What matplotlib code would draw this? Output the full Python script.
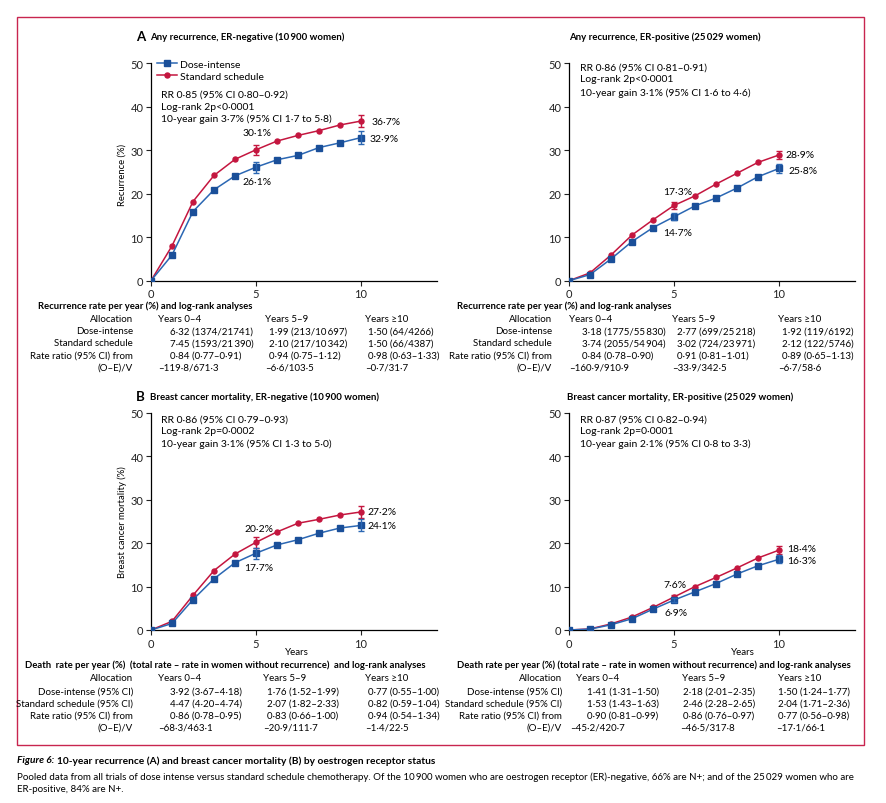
import matplotlib
matplotlib.use('Agg')
import matplotlib.pyplot as plt
from matplotlib.patches import Rectangle

plt.rcParams['font.family'] = ['Lato', 'DejaVu Sans']

W, H = 887, 804
RED = '#c4163f'
BLUE = '#1f5ba6'
BORDER = '#c8254f'

years = list(range(0, 11))
err_years = [5, 10]

# Panel A, ER-negative: any recurrence (%)
a_neg_dose = [0, 5.9, 15.9, 20.9, 24.1, 26.1, 27.8, 28.8, 30.6, 31.7, 32.9]
a_neg_std = [0, 8.0, 18.2, 24.2, 27.9, 30.1, 32.1, 33.4, 34.5, 35.8, 36.7]
a_neg_dose_err = [1.3, 1.5]
a_neg_std_err = [1.2, 1.4]

# Panel A, ER-positive
a_pos_dose = [0, 1.4, 5.0, 9.0, 12.2, 14.7, 17.2, 19.0, 21.3, 23.9, 25.8]
a_pos_std = [0, 1.8, 5.9, 10.5, 14.0, 17.3, 19.5, 22.2, 24.7, 27.2, 28.9]
a_pos_dose_err = [0.8, 1.0]
a_pos_std_err = [0.8, 1.0]

# Panel B, ER-negative: breast cancer mortality (%)
b_neg_dose = [0, 1.5, 7.0, 11.8, 15.5, 17.7, 19.6, 20.8, 22.3, 23.5, 24.1]
b_neg_std = [0, 2.0, 8.0, 13.7, 17.5, 20.2, 22.6, 24.6, 25.5, 26.5, 27.2]
b_neg_dose_err = [1.3, 1.4]
b_neg_std_err = [1.2, 1.4]

# Panel B, ER-positive
b_pos_dose = [0, 0.2, 1.2, 2.6, 4.8, 6.9, 8.8, 10.7, 12.9, 14.8, 16.3]
b_pos_std = [0, 0.25, 1.4, 3.0, 5.2, 7.6, 10.0, 12.1, 14.3, 16.6, 18.4]
b_pos_dose_err = [0.5, 0.9]
b_pos_std_err = [0.5, 0.9]

yticks = [0, 10, 20, 30, 40, 50]
xticks = [0, 5, 10]
series_names = ['Dose-intense', 'Standard schedule']

titles = ['Any recurrence, ER-negative (10\u2009900 women)',
          'Any recurrence, ER-positive (25\u2009029 women)',
          'Breast cancer mortality, ER-negative (10\u2009900 women)',
          'Breast cancer mortality, ER-positive (25\u2009029 women)']

stats = [['RR 0·85 (95% CI 0·80–0·92)', 'Log-rank 2p<0·0001', '10-year gain 3·7% (95% CI 1·7 to 5·8)'],
         ['RR 0·86 (95% CI 0·81–0·91)', 'Log-rank 2p<0·0001', '10-year gain 3·1% (95% CI 1·6 to 4·6)'],
         ['RR 0·86 (95% CI 0·79–0·93)', 'Log-rank 2p=0·0002', '10-year gain 3·1% (95% CI 1·3 to 5·0)'],
         ['RR 0·87 (95% CI 0·82–0·94)', 'Log-rank 2p=0·0001', '10-year gain 2·1% (95% CI 0·8 to 3·3)']]

# Tables
col_heads = ['Years 0–4', 'Years 5–9', 'Years ≥10']
a_rows = ['Allocation', 'Dose-intense', 'Standard schedule', 'Rate ratio (95% CI) from', '(O–E)/V']
b_rows = ['Allocation', 'Dose-intense (95% CI)', 'Standard schedule (95% CI)', 'Rate ratio (95% CI) from', '(O–E)/V']
a_head = 'Recurrence rate per year (%) and log-rank analyses'
b_head_left = 'Death  rate per year (%)  (total rate – rate in women without recurrence)  and log-rank analyses'
b_head_right = 'Death rate per year (%) (total rate – rate in women without recurrence) and log-rank analyses'

a_neg_tbl_dose = ['6·32 (1374/21741)', '1·99 (213/10\u2009697)', '1·50 (64/4266)']
a_neg_tbl_std = ['7·45 (1593/21\u2009390)', '2·10 (217/10\u2009342)', '1·50 (66/4387)']
a_neg_tbl_rr = ['0·84 (0·77–0·91)', '0·94 (0·75–1·12)', '0·98 (0·63–1·33)']
a_neg_tbl_oe = ['–119·8/671·3', '–6·6/103·5', '–0·7/31·7']

a_pos_tbl_dose = ['3·18 (1775/55\u2009830)', '2·77 (699/25\u2009218)', '1·92 (119/6192)']
a_pos_tbl_std = ['3·74 (2055/54\u2009904)', '3·02 (724/23\u2009971)', '2·12 (122/5746)']
a_pos_tbl_rr = ['0·84 (0·78–0·90)', '0·91 (0·81–1·01)', '0·89 (0·65–1·13)']
a_pos_tbl_oe = ['–160·9/910·9', '–33·9/342·5', '–6·7/58·6']

b_neg_tbl_dose = ['3·92 (3·67–4·18)', '1·76 (1·52–1·99)', '0·77 (0·55–1·00)']
b_neg_tbl_std = ['4·47 (4·20–4·74)', '2·07 (1·82–2·33)', '0·82 (0·59–1·04)']
b_neg_tbl_rr = ['0·86 (0·78–0·95)', '0·83 (0·66–1·00)', '0·94 (0·54–1·34)']
b_neg_tbl_oe = ['–68·3/463·1', '–20·9/111·7', '–1·4/22·5']

b_pos_tbl_dose = ['1·41 (1·31–1·50)', '2·18 (2·01–2·35)', '1·50 (1·24–1·77)']
b_pos_tbl_std = ['1·53 (1·43–1·63)', '2·46 (2·28–2·65)', '2·04 (1·71–2·36)']
b_pos_tbl_rr = ['0·90 (0·81–0·99)', '0·86 (0·76–0·97)', '0·77 (0·56–0·98)']
b_pos_tbl_oe = ['–45·2/420·7', '–46·5/317·8', '–17·1/66·1']

fig = plt.figure(figsize=(W / 100, H / 100), dpi=100)
renderer = fig.canvas.get_renderer()

TFS = 7.0   # table text size
HFS = 6.8   # bold table heading size


def fx(x):
    return x / W


def fy(y):
    return 1 - y / H


def T(x, y, s, **kw):
    kw.setdefault('fontsize', TFS)
    kw.setdefault('va', 'center')
    return fig.text(fx(x), fy(y), s, **kw)


# border
fig.add_artist(Rectangle((fx(17), fy(746)), fx(864) - fx(17), fy(18) - fy(746),
                         transform=fig.transFigure, fill=False, edgecolor=BORDER, lw=1.0))

XMAX = 13.6
PXY = 21.0


def fmt(v):
    return f'{v:.1f}%'.replace('.', '·')


def panel(x0, y0, ytop, dose, std, dose_err, std_err, labpos, legend=False):
    hpx = y0 - ytop
    ax = fig.add_axes([fx(x0), fy(y0), XMAX * PXY / W, hpx / H])
    ax.plot(years, std, color=RED, lw=1.1, marker='o', ms=3.6, zorder=3, label=series_names[1])
    ax.plot(years, dose, color='#2b67b3', lw=1.1, marker='s', ms=4.2, mfc='#1a4f99', mec='#1a4f99',
            zorder=4, label=series_names[0])
    ax.errorbar(err_years, [std[i] for i in err_years], yerr=std_err, fmt='none', ecolor=RED,
                elinewidth=1.0, capsize=2, capthick=1.0, zorder=3)
    ax.errorbar(err_years, [dose[i] for i in err_years], yerr=dose_err, fmt='none', ecolor='#2b67b3',
                elinewidth=1.0, capsize=2, capthick=1.0, zorder=4)
    ax.set_xlim(0, XMAX)
    ax.set_ylim(0, 50)
    ax.set_xticks(xticks)
    ax.set_yticks(yticks)
    for s in ['top', 'right']:
        ax.spines[s].set_visible(False)
    for s in ['left', 'bottom']:
        ax.spines[s].set_linewidth(0.9)
    ax.tick_params(axis='both', labelsize=8, length=3.5, width=0.8, pad=2, colors='#222222',
                   labelcolor='#222222')
    ax.patch.set_alpha(0)
    # value labels
    (sx5, sy5), (dx5, dy5), (sx10, sy10), (dx10, dy10) = labpos
    ax.text(sx5, sy5, fmt(std[5]), fontsize=7.5, va='center', ha='left')
    ax.text(dx5, dy5, fmt(dose[5]), fontsize=7.5, va='center', ha='left')
    ax.text(sx10, sy10, fmt(std[10]), fontsize=7.5, va='center', ha='left')
    ax.text(dx10, dy10, fmt(dose[10]), fontsize=7.5, va='center', ha='left')
    if legend:
        h, l = ax.get_legend_handles_labels()
        ax.legend(h[::-1], l[::-1], loc='upper left', bbox_to_anchor=(0.012, 1.025), frameon=False,
                  fontsize=7.5, handlelength=2.0, handletextpad=0.3, labelspacing=0.25,
                  borderaxespad=0, borderpad=0.2)
    return ax


panel(151, 281.7, 64.2, a_neg_dose, a_neg_std, a_neg_dose_err, a_neg_std_err,
      [(4.38, 34.0), (4.38, 22.9), (10.48, 36.7), (10.43, 32.8)], legend=True)
panel(569, 281.7, 64.2, a_pos_dose, a_pos_std, a_pos_dose_err, a_pos_std_err,
      [(4.48, 20.4), (4.48, 11.0), (10.29, 29.1), (10.43, 25.4)])
panel(151, 631, 414, b_neg_dose, b_neg_std, b_neg_dose_err, b_neg_std_err,
      [(4.43, 23.3), (4.43, 14.3), (10.29, 27.2), (10.29, 24.0)])
panel(569, 631, 414, b_pos_dose, b_pos_std, b_pos_dose_err, b_pos_std_err,
      [(4.52, 10.4), (4.57, 4.1), (10.38, 18.7), (10.38, 16.1)])

# titles
T(136, 37, 'A', fontsize=9.5, fontweight='bold', ha='left')
T(150, 37, titles[0], fontsize=6.9, fontweight='bold', ha='left')
T(569, 37, titles[1], fontsize=6.9, fontweight='bold', ha='left')
T(136, 397, 'B', fontsize=9.5, fontweight='bold', ha='left')
T(150, 397, titles[2], fontsize=6.9, fontweight='bold', ha='left')
T(567, 397, titles[3], fontsize=6.9, fontweight='bold', ha='left')

# stats blocks
for (x, ys), lines in zip([(161, [95, 107, 119]), (580, [68, 80, 93]), (161, [420, 432, 444]),
                           (580, [420, 432, 444])], stats):
    for y, s in zip(ys, lines):
        T(x, y, s, ha='left', fontsize=7.5)

# y labels
T(122, 175, 'Recurrence (%)', rotation=90, ha='center', fontsize=6.8)
T(122, 522, 'Breast cancer mortality (%)', rotation=90, ha='center', fontsize=6.8)

# Years labels
T(297, 653, 'Years', ha='center')
T(743, 653, 'Years', ha='center')


def table(hx, hy, head, rows, ry, lab_r, head_xs, val_xs, oe_xs, body):
    T(hx, hy, head, ha='left', fontweight='bold', fontsize=HFS)
    for y, r in zip(ry, rows):
        T(lab_r, y, r, ha='right')
    for x, c in zip(head_xs, col_heads):
        T(x, ry[0], c, ha='left')
    for i, vals in enumerate(body):
        xs = oe_xs if i == len(body) - 1 else val_xs
        for x, v in zip(xs, vals):
            T(x, ry[i + 1], v, ha='left')


table(38, 306, a_head, a_rows, [320, 332, 344, 356, 368], 133,
      [158, 265, 365], [170, 269, 368], [158, 265, 365],
      [a_neg_tbl_dose, a_neg_tbl_std, a_neg_tbl_rr, a_neg_tbl_oe])
table(457, 306, a_head, a_rows, [320, 332, 344, 356, 368], 552,
      [569, 672, 778], [582, 677, 782], [569, 672, 778],
      [a_pos_tbl_dose, a_pos_tbl_std, a_pos_tbl_rr, a_pos_tbl_oe])
table(25, 665, b_head_left, b_rows, [679, 692, 704, 716, 728], 133,
      [158, 263, 365], [170, 267, 368], [158, 263, 365],
      [b_neg_tbl_dose, b_neg_tbl_std, b_neg_tbl_rr, b_neg_tbl_oe])
table(457, 665, b_head_right, b_rows, [679, 692, 704, 716, 728], 562,
      [576, 682, 778], [587, 683, 778], [570, 680, 776],
      [b_pos_tbl_dose, b_pos_tbl_std, b_pos_tbl_rr, b_pos_tbl_oe])

# caption
t1 = fig.text(fx(17), fy(761), 'Figure 6:', fontsize=7.3, fontweight='bold', style='italic',
              va='center', ha='left')
bb = t1.get_window_extent(renderer=renderer)
fig.text(bb.x1 / W + 3 / W, fy(761),
         '10-year recurrence (A) and breast cancer mortality (B) by oestrogen receptor status',
         fontsize=7.3, fontweight='bold', va='center', ha='left')
fig.text(fx(17), fy(777), 'Pooled data from all trials of dose intense versus standard schedule chemotherapy. '
         'Of the 10\u2009900 women who are oestrogen receptor (ER)-negative, 66% are N+; and of the 25\u2009029 women who are',
         fontsize=7.0, va='center', ha='left')
fig.text(fx(17), fy(790), 'ER-positive, 84% are N+.', fontsize=7.0, va='center', ha='left')

fig.savefig('out.png', dpi=100)
